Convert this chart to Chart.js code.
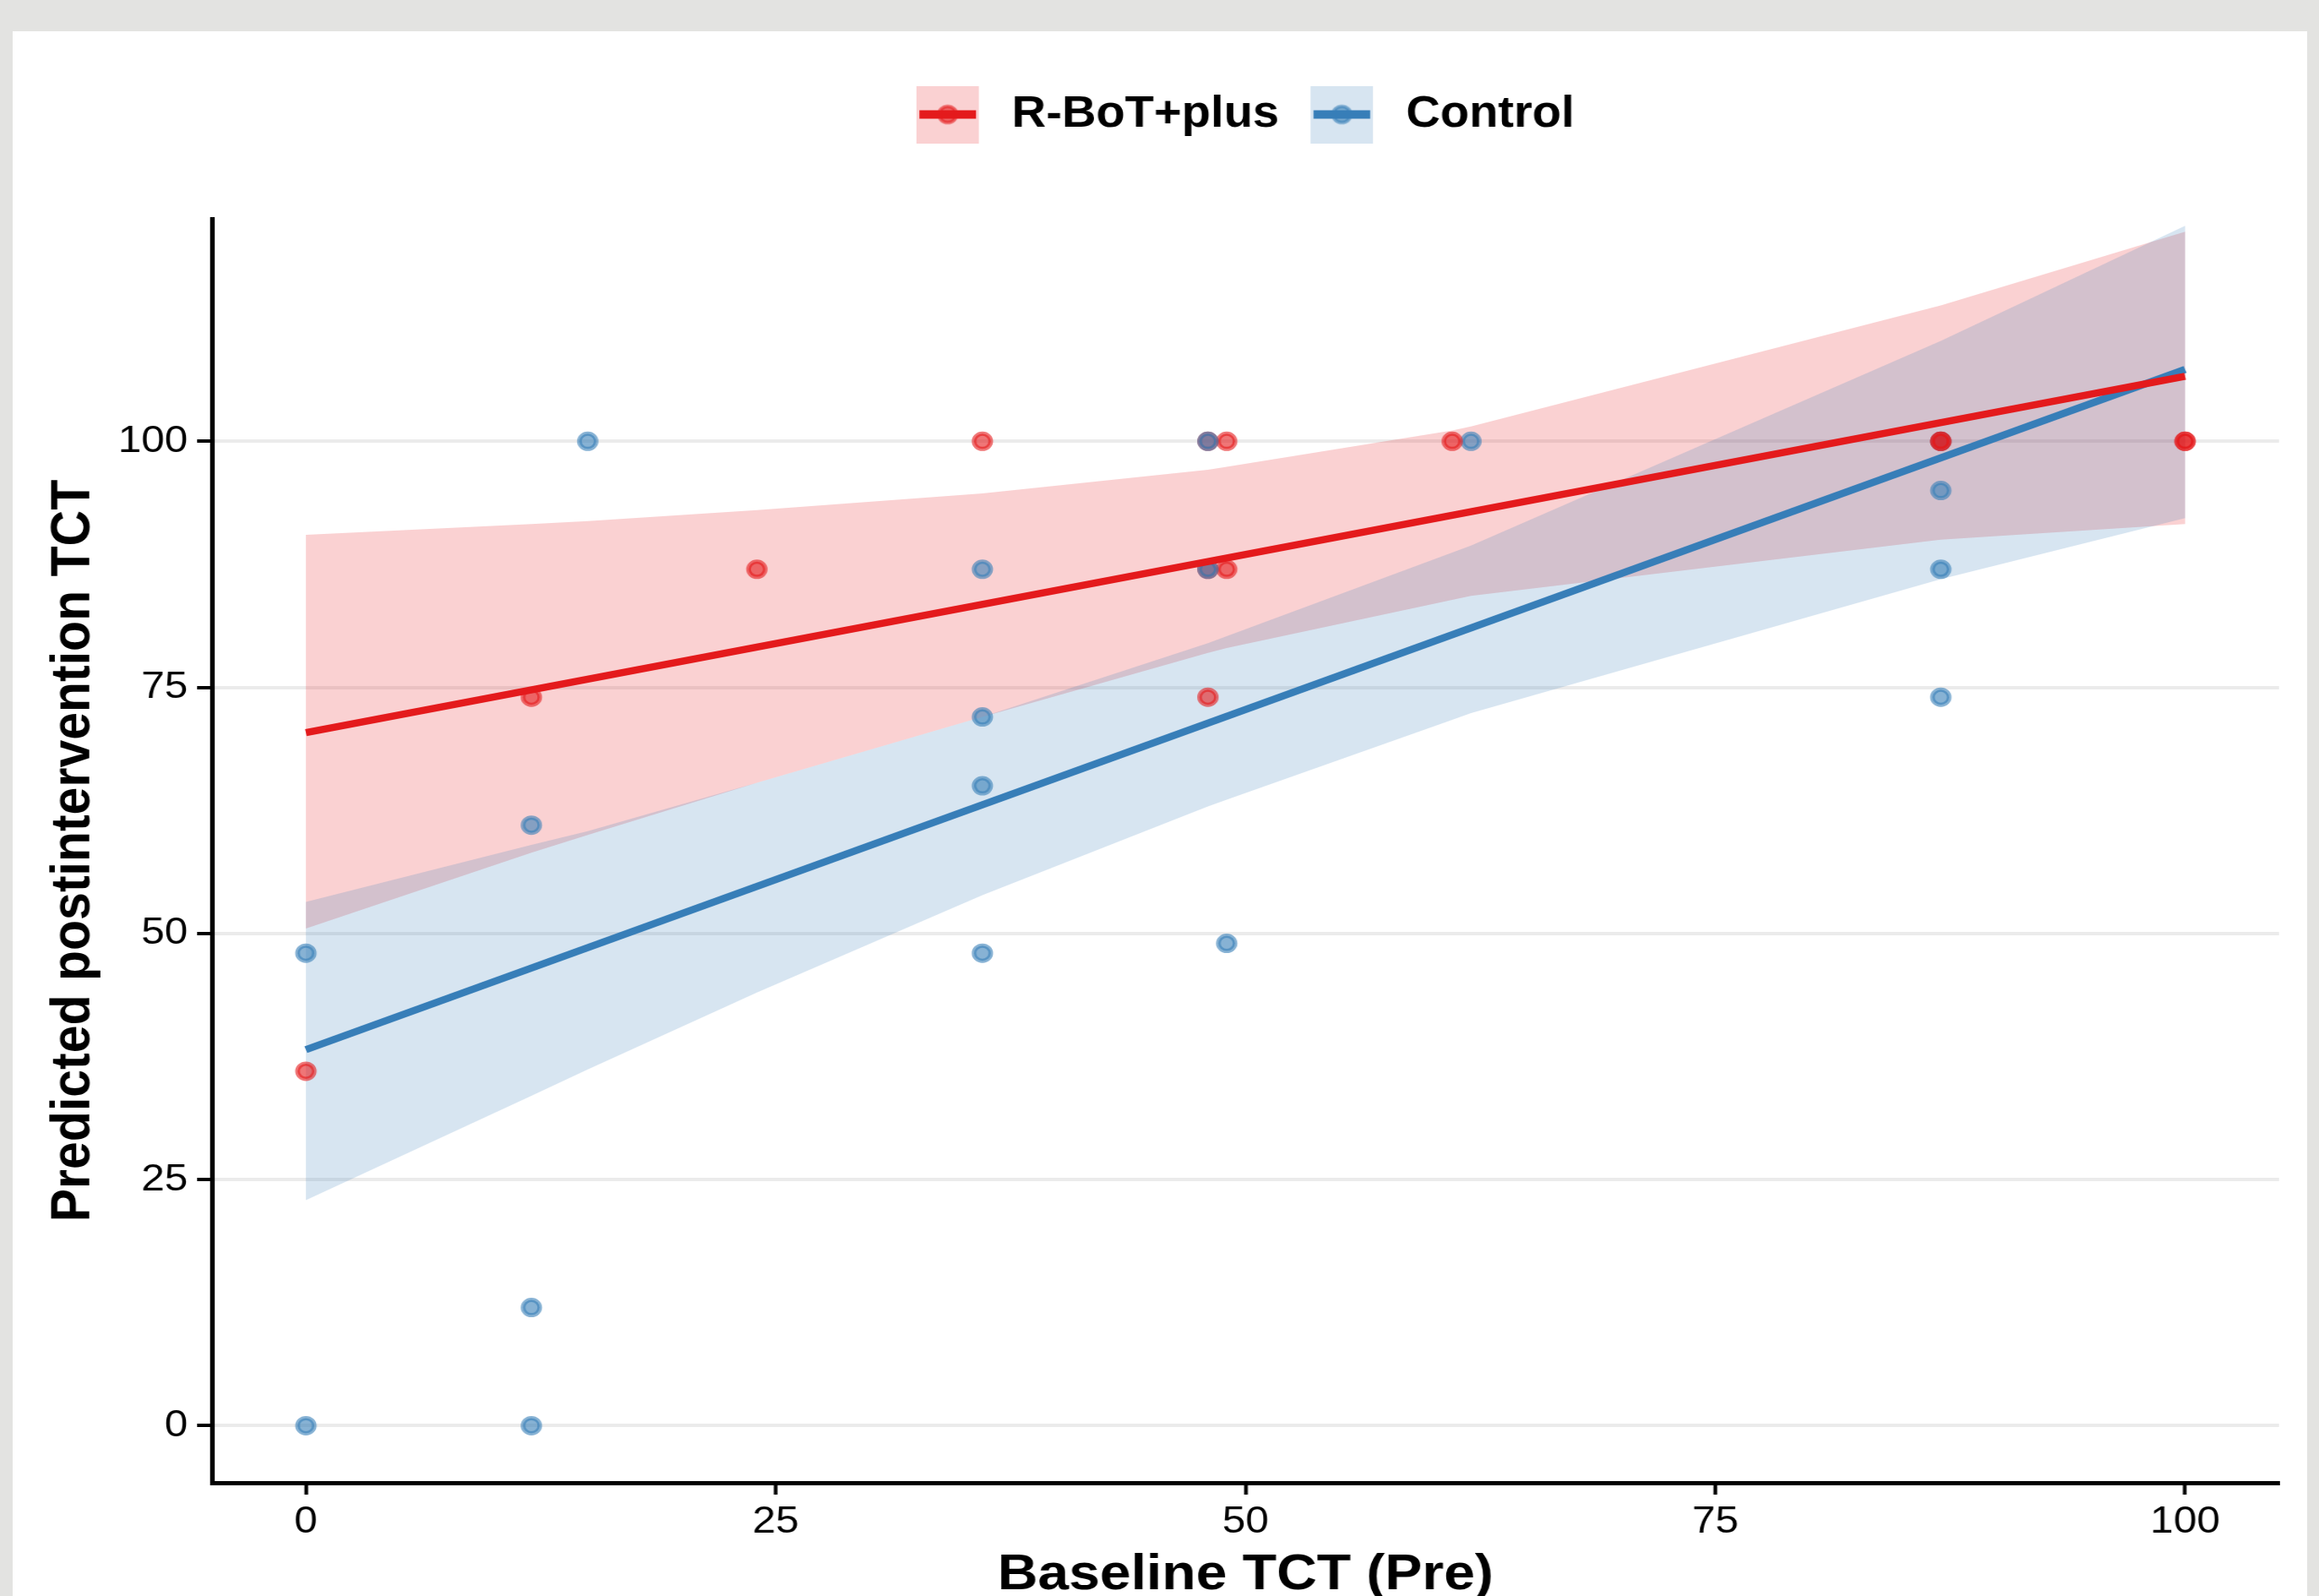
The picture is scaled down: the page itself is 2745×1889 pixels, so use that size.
<!DOCTYPE html>
<html>
<head>
<meta charset="utf-8">
<title>Predicted postintervention TCT</title>
<script src="https://cdn.jsdelivr.net/npm/chart.js@4"></script>
<style>
  html, body { margin: 0; padding: 0; }
  body { width: 2745px; height: 1889px; background: #e3e3e1; position: relative; overflow: hidden; }
  #panel { position: absolute; left: 15px; top: 37px; width: 2716px; height: 1852px; background: #fff; }
  #chart { position: absolute; left: 0; top: 0; }
</style>
</head>
<body>
<div id="panel"></div>
<!-- the source picture is a bit wider than tall, so the canvas is stretched sideways -->
<canvas id="chart" width="2495" height="1889" style="width:2745px;height:1889px"></canvas>
<script>
  const groups = ['R-BoT+plus', 'Control'];

  // observed points
  const rbotX = [0, 12, 24, 36, 48, 49, 48, 49, 48, 61, 87, 87, 100, 100];
  const rbotY = [36, 74, 87, 100, 100, 100, 87, 87, 74, 100, 100, 100, 100, 100];
  const controlX = [0, 0, 12, 12, 12, 15, 36, 36, 36, 36, 49, 62, 87, 87, 87, 87];
  const controlY = [48, 0, 61, 12, 0, 100, 87, 72, 65, 48, 49, 100, 100, 95, 87, 74];
  // control points that sit on top of red ones at x = 48
  const controlTopX = [48, 48];
  const controlTopY = [100, 87];

  // fitted lines
  const fitX = [0, 100];
  const rbotFit = [70.4, 106.6];
  const controlFit = [38.2, 107.3];

  // confidence bands
  const bandX = [0, 12, 15, 24, 36, 48, 49, 61, 62, 87, 100];
  const rbotLower = [50.5, 58.2, 60.0, 65.3, 72.0, 78.5, 79.0, 83.9, 84.3, 90.0, 91.6];
  const rbotUpper = [90.5, 91.6, 91.9, 93.0, 94.7, 97.1, 97.4, 101.1, 101.5, 113.8, 121.3];
  const controlLower = [22.9, 33.5, 36.2, 44.0, 53.9, 62.9, 63.6, 71.7, 72.4, 86.0, 92.2];
  const controlUpper = [53.2, 59.0, 60.4, 65.3, 72.0, 79.5, 80.2, 88.7, 89.4, 110.2, 121.9];

  const xTicks = [0, 25, 50, 75, 100];
  const yTicks = [0, 25, 50, 75, 100];

  const RED = '228,26,28';
  const BLUE = '55,126,184';
  const FONT = "'Liberation Sans', Arial, sans-serif";

  Chart.defaults.font.family = FONT;
  Chart.defaults.color = '#000';

  const pts = (xs, ys) => xs.map((x, i) => ({x: x, y: ys[i]}));

  function makeKey(rgb) {
    const c = document.createElement('canvas');
    c.width = 77;
    c.height = 68;
    const g = c.getContext('2d');
    g.fillStyle = 'rgba(' + rgb + ',0.2)';
    g.fillRect(0, 0, 67, 68);
    g.beginPath();
    g.arc(33.5, 34, 9.5, 0, Math.PI * 2);
    g.fillStyle = 'rgba(' + rgb + ',0.6)';
    g.fill();
    g.lineWidth = 4;
    g.strokeStyle = 'rgba(' + rgb + ',0.6)';
    g.stroke();
    g.fillStyle = 'rgb(' + rgb + ')';
    g.fillRect(3, 29, 61, 10);
    return c;
  }
  const keys = [makeKey(RED), makeKey(BLUE)];

  function band(data, rgb, fillTarget, order) {
    return {
      type: 'line',
      data: data,
      fill: fillTarget,
      backgroundColor: 'rgba(' + rgb + ',0.2)',
      borderColor: 'rgba(0,0,0,0)',
      borderWidth: 0,
      pointRadius: 0,
      tension: 0,
      order: order,
      xAxisID: 'x', yAxisID: 'y'
    };
  }

  function points(data, rgb, order) {
    return {
      type: 'scatter',
      data: data,
      backgroundColor: 'rgba(' + rgb + ',0.6)',
      borderColor: 'rgba(' + rgb + ',0.6)',
      borderWidth: 5,
      pointRadius: 9,
      order: order,
      xAxisID: 'x', yAxisID: 'y'
    };
  }

  function fitLine(data, rgb, order) {
    return {
      type: 'line',
      data: data,
      borderColor: 'rgb(' + rgb + ')',
      borderWidth: 8.5,
      pointRadius: 0,
      fill: false,
      tension: 0,
      order: order,
      xAxisID: 'x', yAxisID: 'y'
    };
  }

  // keeps the legend centred over the panel, like ggplot does
  const centerLegend = {
    id: 'centerLegend',
    afterLayout(chart) {
      const lg = chart.legend;
      const mid = (chart.chartArea.left + chart.chartArea.right) / 2;
      const shift = mid - (lg.left + lg.right) / 2;
      lg.left += shift;
      lg.right += shift;
    }
  };

  new Chart(document.getElementById('chart'), {
    type: 'scatter',
    data: {
      datasets: [
        band(pts(bandX, rbotUpper), RED, '+1', 10),
        band(pts(bandX, rbotLower), RED, false, 10),
        band(pts(bandX, controlUpper), BLUE, '+1', 9),
        band(pts(bandX, controlLower), BLUE, false, 9),
        points(pts(controlX, controlY), BLUE, 5),
        points(pts(rbotX, rbotY), RED, 4),
        points(pts(controlTopX, controlTopY), BLUE, 3),
        fitLine(pts(fitX, controlFit), BLUE, 2),
        fitLine(pts(fitX, rbotFit), RED, 1)
      ]
    },
    options: {
      responsive: false,
      maintainAspectRatio: false,
      devicePixelRatio: 1,
      animation: false,
      events: [],
      layout: { padding: { top: 76, right: 43, bottom: 0, left: 0 } },
      plugins: {
        tooltip: { enabled: false },
        legend: {
          position: 'top',
          align: 'center',
          labels: {
            usePointStyle: true,
            pointStyleWidth: 77,
            padding: 34,
            color: '#000',
            font: { family: FONT, size: 51, weight: 'bold' },
            generateLabels: () => groups.map((g, i) => ({
              text: g,
              pointStyle: keys[i],
              fillStyle: 'rgba(0,0,0,0)',
              strokeStyle: 'rgba(0,0,0,0)',
              lineWidth: 0,
              fontColor: '#000',
              hidden: false,
              datasetIndex: i
            }))
          }
        }
      },
      scales: {
        x: {
          type: 'linear',
          position: 'bottom',
          min: -5,
          max: 105,
          afterBuildTicks: s => { s.ticks = xTicks.map(v => ({value: v})); },
          ticks: { color: '#000', font: { size: 45 }, padding: 6 },
          grid: { drawOnChartArea: false, drawTicks: true, tickLength: 14, tickColor: '#000', tickWidth: 4 },
          border: { display: true, color: '#000', width: 5 },
          title: {
            display: true,
            text: 'Baseline TCT (Pre)',
            color: '#000',
            font: { size: 60, weight: 'bold' },
            padding: { top: 0, bottom: -11 }
          },
          afterFit: s => { s.height = 134; }
        },
        xTop: {
          type: 'linear',
          position: 'top',
          min: 0,
          max: 1,
          grid: { display: false },
          border: { display: false },
          ticks: { display: false },
          afterFit: s => { s.height = 88; }
        },
        y: {
          type: 'linear',
          min: -5.8,
          max: 122.6,
          afterBuildTicks: s => { s.ticks = yTicks.map(v => ({value: v})); },
          ticks: { color: '#000', font: { size: 45 }, padding: 10 },
          grid: { color: '#ebebeb', lineWidth: 4, drawTicks: true, tickLength: 16, tickColor: '#000', tickWidth: 4 },
          border: { display: true, color: '#000', width: 5 },
          title: {
            display: true,
            text: 'Predicted postintervention TCT',
            color: '#000',
            font: { size: 59, weight: 'bold' },
            padding: { top: 44, bottom: 0 }
          },
          afterFit: s => { s.width = 228; }
        }
      }
    },
    plugins: [centerLegend]
  });
</script>
</body>
</html>
